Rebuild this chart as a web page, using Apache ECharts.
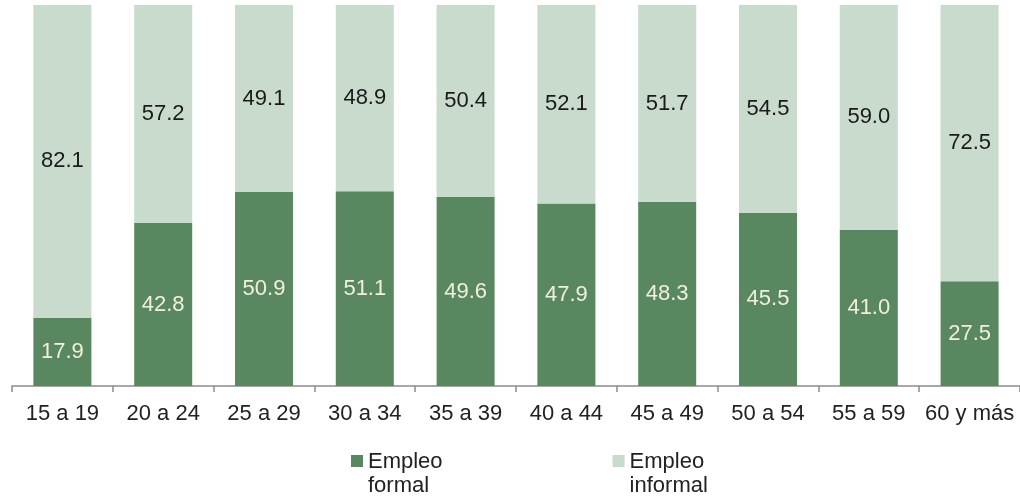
<!DOCTYPE html>
<html>
<head>
<meta charset="utf-8">
<script src="https://cdn.jsdelivr.net/npm/echarts@6/dist/echarts.min.js"></script>
<style>html,body{margin:0;padding:0;background:#fff}#c{width:1020px;height:500px}</style>
</head>
<body>
<div id="c"></div>
<script>
const categories = ['15 a 19','20 a 24','25 a 29','30 a 34','35 a 39','40 a 44','45 a 49','50 a 54','55 a 59','60 y más'];
const formal = [17.9, 42.8, 50.9, 51.1, 49.6, 47.9, 48.3, 45.5, 41.0, 27.5];
const informal = [82.1, 57.2, 49.1, 48.9, 50.4, 52.1, 51.7, 54.5, 59.0, 72.5];
const seriesNames = ['Empleo formal', 'Empleo informal'];

const FONT = 'Liberation Sans, Arial, sans-serif';
const chart = echarts.init(document.getElementById('c'), null, {renderer: 'canvas'});
const iconPath = 'path://M0,0H12V12H0Z M0,38L0.001,38';
chart.setOption({
  animation: false,
  grid: {left: 12, right: -8, top: 5, bottom: 114, containLabel: false},
  legend: {
    left: 351, top: 450, padding: 0, itemGap: 170,
    itemWidth: 12, itemHeight: 38,
    data: [{name: seriesNames[0], icon: iconPath}, {name: seriesNames[1], icon: iconPath}],
    formatter: n => n.replace(' ', '\n'),
    textStyle: {fontFamily: FONT, fontSize: 22, color: '#222', lineHeight: 24}
  },
  xAxis: {
    type: 'category', data: categories,
    axisLine: {lineStyle: {color: '#8c8c8c', width: 1.5}},
    axisTick: {show: true, interval: 0, length: 6, lineStyle: {color: '#8c8c8c', width: 1.5}},
    axisLabel: {interval: 0, fontFamily: FONT, fontSize: 22, color: '#222', margin: 17}
  },
  yAxis: {type: 'value', min: 0, max: 100, show: false, splitLine: {show: false}},
  series: [
    {
      name: seriesNames[0], type: 'bar', stack: 't', data: formal, barWidth: 58,
      itemStyle: {color: '#59875f'},
      label: {show: true, position: 'inside', fontFamily: FONT, fontSize: 22, color: '#f0f0dc', formatter: p => p.value.toFixed(1)}
    },
    {
      name: seriesNames[1], type: 'bar', stack: 't', data: informal, barWidth: 58,
      itemStyle: {color: '#c8dbcc'},
      label: {show: true, position: 'inside', fontFamily: FONT, fontSize: 22, color: '#1a1a1a', formatter: p => p.value.toFixed(1)}
    }
  ]
});
</script>
</body>
</html>
